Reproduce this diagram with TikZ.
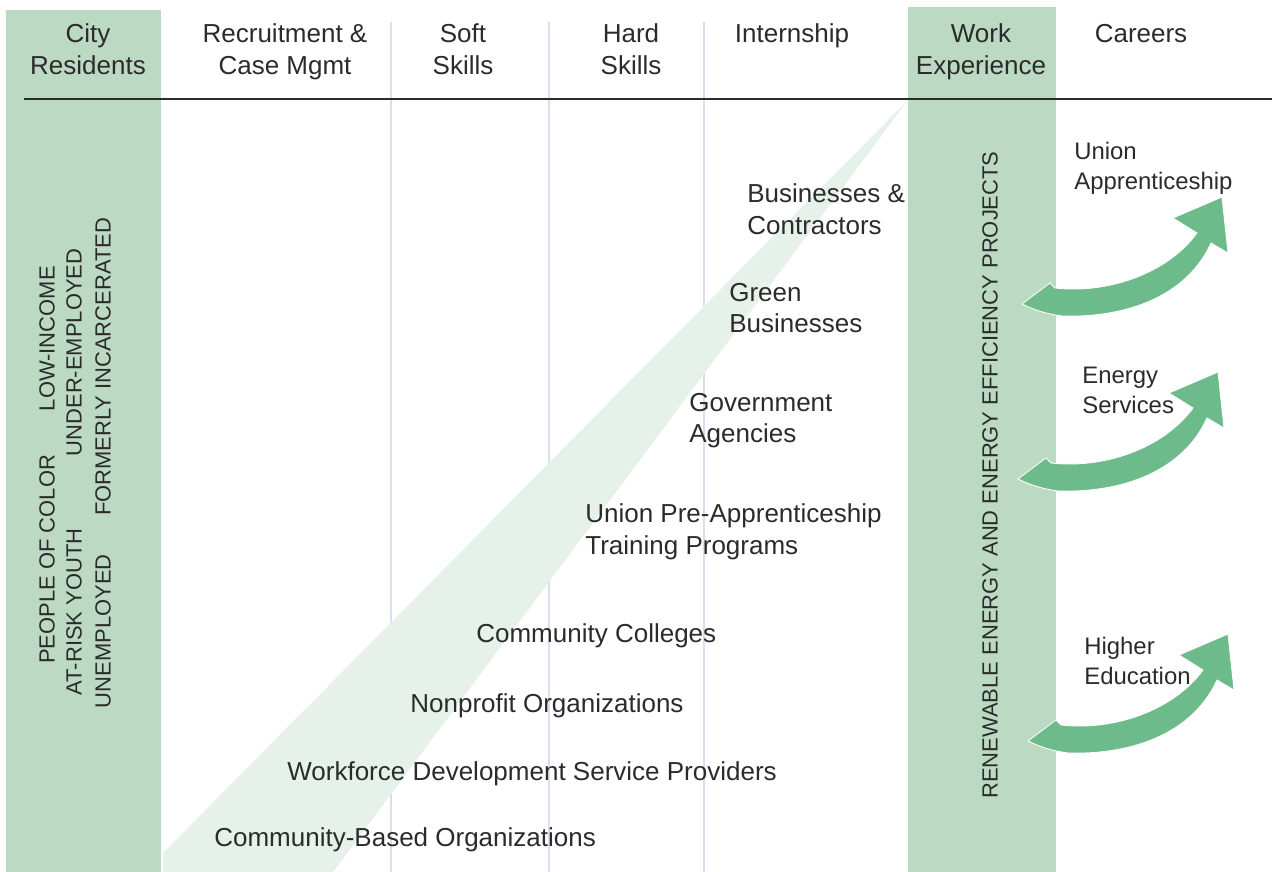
\documentclass[tikz,border=0pt]{standalone}
\usepackage{fontspec}
\setmainfont{Liberation Sans}
\usepackage{tikz}
\usetikzlibrary{positioning}
\definecolor{bandgreen}{HTML}{BBD9C3}
\definecolor{wedgegreen}{HTML}{E6F1E9}
\definecolor{arrowgreen}{HTML}{6DBA8A}
\definecolor{colilac}{HTML}{DCDEF0}
\definecolor{inkgray}{HTML}{2B2B2B}
\tikzset{
  band/.style={fill=bandgreen},
  colline/.style={draw=colilac, line width=1.7pt},
  hrule/.style={draw=inkgray, line width=1.4pt},
  hdr/.style={text=inkgray, font=\fontsize{14.8}{18.2}\selectfont, align=center, anchor=north, inner sep=0pt},
  org/.style={text=inkgray, font=\fontsize{14.8}{18.2}\selectfont, align=left, anchor=north west, inner sep=0pt},
  career/.style={text=inkgray, font=\fontsize{13.6}{17.1}\selectfont, align=left, anchor=north west, inner sep=0pt},
  group/.style={text=inkgray, font=\fontsize{12.5}{15}\selectfont, rotate=90, inner sep=0pt},
  careerarrow/.pic={
    \fill[arrowgreen, draw=white, line width=0.5pt] (0,0) -- (28,-21) -- (33,-16)
      .. controls (85,-10) and (145,-30) .. (175,-71) -- (151,-86) -- (200,-107)
      -- (206,-51) -- (189,-61) .. controls (165,-8) and (105,14) .. (40,12)
      .. controls (25,10) and (12,6) .. cycle;
  }
}

\begin{document}
\begin{tikzpicture}[x=0.02cm, y=-0.02cm]
      \useasboundingbox (0,0) rectangle (1272,872);

      \fill[band] (6,10) rectangle (161,872);

      \draw[colline] (391,22) -- (391,872);
      \draw[colline] (549,22) -- (549,872);
      \draw[colline] (704,22) -- (704,872);

      \fill[wedgegreen] (908,100) -- (163,853) -- (163,872) -- (333,872) -- cycle;

      \fill[band] (908,7) rectangle (1056,872);

      \draw[hrule] (24,99) -- (1272,99);

      \node[hdr] (city) at (88,23.5) {City\\Residents};
      \node[hdr] (recruit) at (285,23.5) {Recruitment \&\\Case Mgmt};
      \node[hdr] (soft) at (463,23.5) {Soft\\Skills};
      \node[hdr] (hard) at (631,23.5) {Hard\\Skills};
      \node[hdr] (intern) at (792,23.5) {Internship};
      \node[hdr] (work) at (981,23.5) {Work\\Experience};
      \node[hdr] (careers) at (1141,23.5) {Careers};

      \node[group] (poc) at (47,465) {PEOPLE OF COLOR\hspace{2em}LOW-INCOME};
      \node[group] (youth) at (74,472) {AT-RISK YOUTH\hspace{3.3em}UNDER-EMPLOYED};
      \node[group] (unemp) at (103,463) {UNEMPLOYED\hspace{1.75em}FORMERLY INCARCERATED};
      \node[group] (projects) at (990,475) {RENEWABLE ENERGY AND ENERGY EFFICIENCY PROJECTS};

      \node[org] (biz) at (747,183.5) {Businesses \&\\Contractors};
      \node[org] (greenbiz) at (729,282.5) {Green\\Businesses};
      \node[org] (gov) at (689,392.5) {Government\\Agencies};
      \node[org] (preapp) at (585,503.5) {Union Pre-Apprenticeship\\Training Programs};
      \node[org] (colleges) at (476,623.5) {Community Colleges};
      \node[org] (nonprofit) at (410,693.5) {Nonprofit Organizations};
      \node[org] (wdsp) at (287,761.5) {Workforce Development Service Providers};
      \node[org] (cbo) at (214,827.5) {Community-Based Organizations};

      \node[career] (union) at (1074,141.5) {Union\\Apprenticeship};
      \node[career] (energy) at (1082,366.5) {Energy\\Services};
      \node[career] (higher) at (1084,636.5) {Higher\\Education};

      \pic (toUnion) at (1022,304) {careerarrow};
      \pic (toEnergy) at (1018,479) {careerarrow};
      \pic (toHigher) at (1028,741) {careerarrow};
    \end{tikzpicture}
\end{document}
